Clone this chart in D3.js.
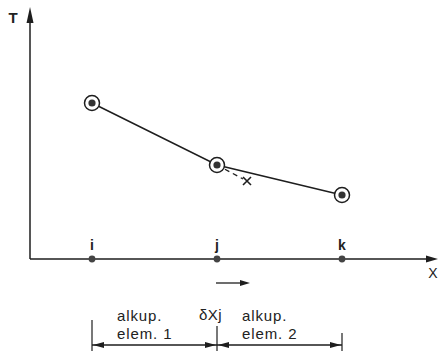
<!DOCTYPE html>
<html>
<head>
<meta charset="utf-8">
<script src="https://cdn.jsdelivr.net/npm/d3@7"></script>
<style>
  body { margin: 0; background: #fff; }
  text { font-family: "Liberation Sans", Arial, sans-serif; fill: #222; }
</style>
</head>
<body>
<div class="chart"></div>
<script>
// node names along the X axis and their positions (index units)
var nodes = ["i", "j", "k"];
var nodePos = [0, 1, 2];
// temperature at each node (arbitrary units)
var tempValues = [62.4, 37.6, 25.6];
// the extrapolated point "x" beyond j
var crossPoint = [1.24, 31.2];
// element labels below the axis
var elemLabels = [["alkup.", "elem. 1"], ["alkup.", "elem. 2"]];
var deltaLabel = "δXj";

var svgWidth = 438, svgHeight = 351;
var ink = "#1e1e1e";

var svg = d3.select(".chart").append("svg")
  .attr("width", svgWidth)
  .attr("height", svgHeight);

var xScale = d3.scaleLinear().domain([0, 2]).range([92, 342]);
var yScale = d3.scaleLinear().domain([0, 100]).range([259, 9]);

var axisY = yScale(0);
var axisX = 30;

// arrowhead helper: tip at (x, y), pointing in direction angle (deg)
function arrowHead(x, y, angle, len, half) {
  var a = angle * Math.PI / 180;
  var bx = x - len * Math.cos(a), by = y - len * Math.sin(a);
  var px = -Math.sin(a) * half, py = Math.cos(a) * half;
  svg.append("path")
    .attr("d", `M${x},${y}L${bx + px},${by + py}L${bx - px},${by - py}Z`)
    .attr("fill", ink);
}

// axes
svg.append("line")
  .attr("x1", axisX).attr("x2", 432)
  .attr("y1", axisY).attr("y2", axisY)
  .attr("stroke", ink).attr("stroke-width", 1.5);
arrowHead(438, axisY, 0, 12, 3.5);

svg.append("line")
  .attr("x1", axisX).attr("x2", axisX)
  .attr("y1", axisY).attr("y2", 14)
  .attr("stroke", ink).attr("stroke-width", 1.5);
arrowHead(axisX, 7, -90, 16, 3.5);

svg.append("text").attr("x", 13).attr("y", 23)
  .attr("text-anchor", "middle")
  .style("font-size", "15px").style("font-weight", "bold")
  .text("T");
svg.append("text").attr("x", 433).attr("y", 278)
  .attr("text-anchor", "middle")
  .style("font-size", "14px")
  .text("X");

// nodes on the X axis
svg.selectAll(".node").data(nodePos).enter()
  .append("circle")
  .attr("cx", d => xScale(d)).attr("cy", axisY)
  .attr("r", 3.4).attr("fill", "#444");

svg.selectAll(".nodeLabel").data(nodes).enter()
  .append("text")
  .attr("x", (d, i) => xScale(nodePos[i]))
  .attr("y", 250)
  .attr("text-anchor", "middle")
  .style("font-size", "14px").style("font-weight", "bold")
  .text(d => d);

// temperature line
var tLine = d3.line()
  .x((d, i) => xScale(nodePos[i]))
  .y(d => yScale(d));

svg.append("path")
  .attr("d", tLine(tempValues))
  .attr("fill", "none")
  .attr("stroke", ink).attr("stroke-width", 1.5);

// dashed extrapolation j -> x
svg.append("line")
  .attr("x1", xScale(nodePos[1])).attr("y1", yScale(tempValues[1]))
  .attr("x2", xScale(crossPoint[0]) - 4).attr("y2", yScale(crossPoint[1]) - 2)
  .attr("stroke", ink).attr("stroke-width", 1.3)
  .attr("stroke-dasharray", "5,4");

var cx = xScale(crossPoint[0]), cy = yScale(crossPoint[1]);
svg.append("path")
  .attr("d", `M${cx - 4},${cy - 4}L${cx + 4},${cy + 4}M${cx + 4},${cy - 4}L${cx - 4},${cy + 4}`)
  .attr("stroke", ink).attr("stroke-width", 1.6);

// circled points
var pts = svg.selectAll(".pt").data(tempValues).enter().append("g")
  .attr("transform", (d, i) => `translate(${xScale(nodePos[i])},${yScale(d)})`);
pts.append("circle").attr("r", 7.5)
  .attr("fill", "#fff").attr("stroke", ink).attr("stroke-width", 1.5);
pts.append("circle").attr("r", 3.6).attr("fill", "#333");

// direction arrow below the axis
svg.append("line")
  .attr("x1", 216).attr("x2", 240)
  .attr("y1", 283).attr("y2", 283)
  .attr("stroke", ink).attr("stroke-width", 1.3);
arrowHead(250, 283, 0, 10, 3);

// dimension lines
var dimY = 345;
var tickTops = [320, 326, 333];
svg.selectAll(".dimTick").data(nodePos).enter()
  .append("line")
  .attr("x1", d => xScale(d)).attr("x2", d => xScale(d))
  .attr("y1", (d, i) => tickTops[i]).attr("y2", 351)
  .attr("stroke", ink).attr("stroke-width", 1.2);

[[0, 1], [1, 2]].forEach(function(seg) {
  var a = xScale(seg[0]), b = xScale(seg[1]);
  svg.append("line")
    .attr("x1", a).attr("x2", b).attr("y1", dimY).attr("y2", dimY)
    .attr("stroke", ink).attr("stroke-width", 1.3);
  arrowHead(a + 1, dimY, 180, 11, 3);
  arrowHead(b - 1, dimY, 0, 11, 3);
});

// element labels
elemLabels.forEach(function(lbl, i) {
  var x0 = xScale(nodePos[i]) + 25;
  lbl.forEach(function(t, k) {
    svg.append("text")
      .attr("x", x0).attr("y", 321 + k * 18)
      .style("font-size", "15px").style("letter-spacing", "0.9px")
      .text(t);
  });
});

svg.append("text").attr("x", 199).attr("y", 320)
  .style("font-size", "15px").style("letter-spacing", "0.5px")
  .text(deltaLabel);
</script>
</body>
</html>
